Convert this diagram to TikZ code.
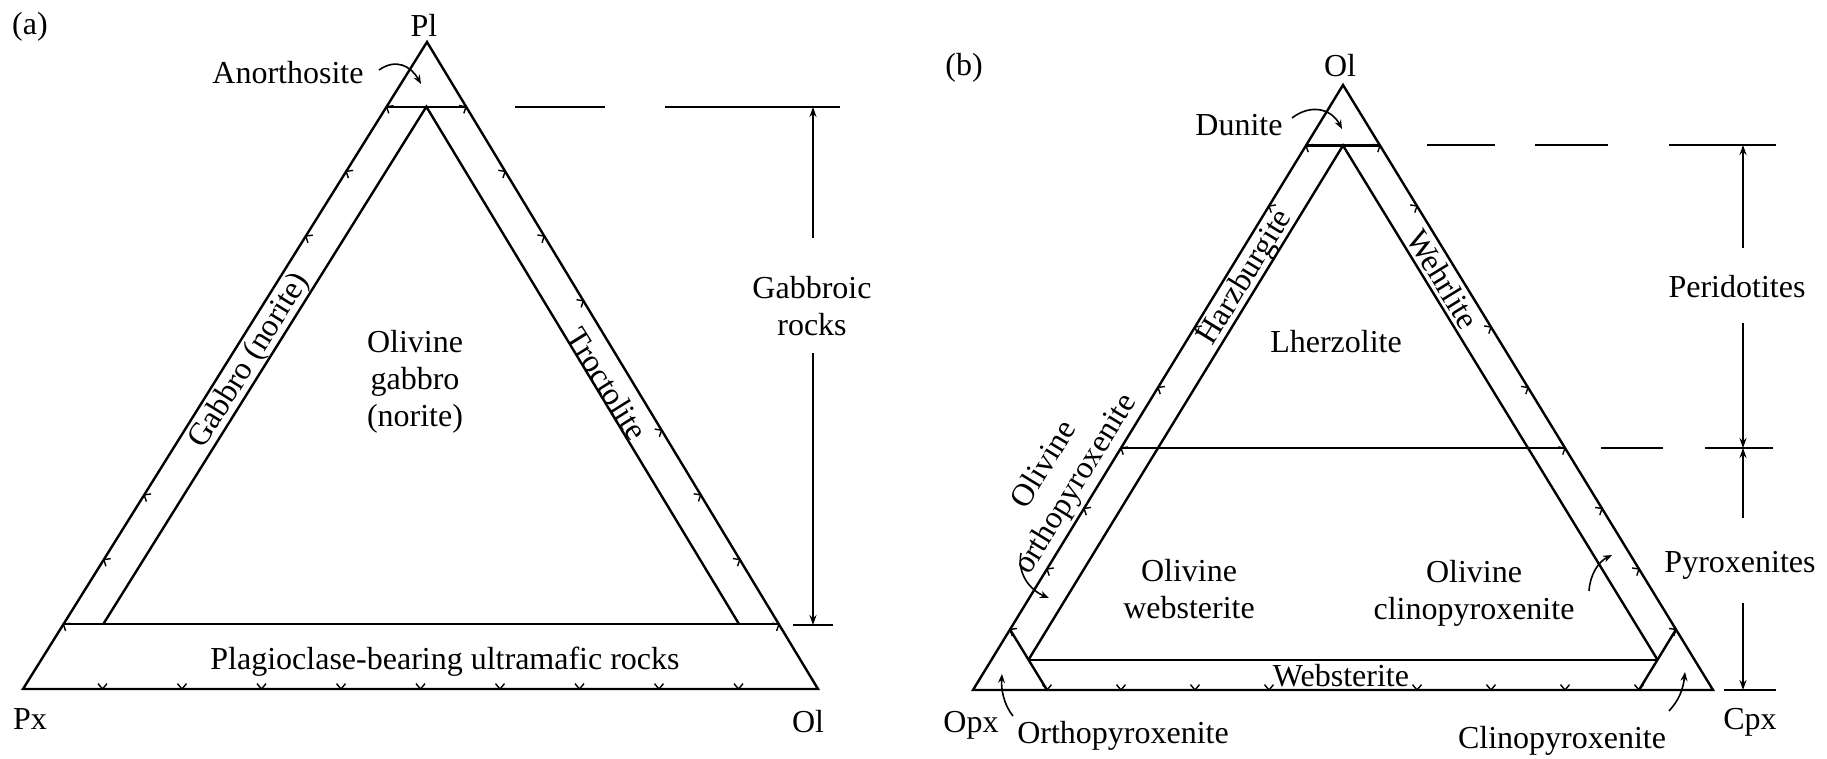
\documentclass[tikz,border=0pt]{standalone}
\usepackage{fontspec}
\setmainfont{Liberation Serif}
\usetikzlibrary{calc,arrows.meta}
\begin{document}
\begin{tikzpicture}[x=0.5pt,y=-0.5pt,
  edge/.style={line width=1.2pt},
  tk/.style={line width=0.7pt},
  dim/.style={line width=0.9pt},
  dsh/.style={line width=1.1pt},
  arr/.style={line width=0.9pt,-{Stealth[length=5pt,width=3.5pt]}},
  carr/.style={line width=0.8pt,-{Stealth[length=4.5pt,width=3.5pt]}},
  lbl/.style={inner sep=0pt,font=\fontsize{16}{18.5}\selectfont,align=center}]
\useasboundingbox (0,0) rectangle (1827,759);
\fill[white] (0,0) rectangle (1827,759);

% ================= (a) =================
\coordinate (aPl) at (427,42);
\coordinate (aPx) at (23,689);
\coordinate (aOl) at (818,689);
\draw[edge] (aPl) -- (aPx) -- (aOl) -- cycle;
\draw[edge] ($(aPx)!0.9!(aPl)$) coordinate (aAnL) -- ($(aOl)!0.9!(aPl)$) coordinate (aAnR);
\draw[edge] ($(aPx)!0.1!(aPl)$) coordinate (aPbL) -- ($(aOl)!0.1!(aPl)$) coordinate (aPbR);
\coordinate (aIT) at (barycentric cs:aPl=0.9,aPx=0.05,aOl=0.05);
\coordinate (aIL) at (barycentric cs:aPl=0.1,aPx=0.85,aOl=0.05);
\coordinate (aIR) at (barycentric cs:aPl=0.1,aPx=0.05,aOl=0.85);
\draw[edge] (aIL) -- (aIT) -- (aIR);

% ticks (a)
\foreach \t in {0.1,0.2,0.3,0.7,0.8,0.9}{
  \coordinate (q) at ($(aPx)!\t!(aPl)$);
  \draw[tk] ([shift={(72:7)}]q) -- (q) -- ([shift={(-8:7)}]q);}
\foreach \t in {0.1,0.2,0.3,0.4,0.6,0.7,0.8,0.9}{
  \coordinate (q) at ($(aOl)!\t!(aPl)$);
  \draw[tk] ([shift={(189:7)}]q) -- (q) -- ([shift={(109:7)}]q);}
\foreach \t in {0.1,0.2,0.3,0.4,0.5,0.6,0.7,0.8,0.9}{
  \coordinate (q) at ($(aPx)!\t!(aOl)$);
  \draw[tk] ([shift={(-130:7)}]q) -- (q) -- ([shift={(-50:7)}]q);}

% labels (a)
\node[lbl] (alab) at (30,27) {(a)};
\node[lbl] (lPl) at (424,25) {Pl};
\node[lbl] (lPx) at (30,719) {Px};
\node[lbl] (lOla) at (808,722) {Ol};
\node[lbl] (anor) at (288,73) {Anorthosite};
\node[lbl] (gabr) at (812,306) {Gabbroic\\rocks};
\node[lbl] (olgab) at (415,382) {Olivine\\gabbro\\(norite)};
\node[lbl,rotate=58] (gabn) at (250,361) {Gabbro (norite)};
\node[lbl,rotate=-58] (troc) at (607,384) {Troctolite};
\node[lbl] (plag) at (445,662) {Plagioclase-bearing ultramafic rocks};

\coordinate (anS) at (379,70);
\coordinate (anE) at (421,84);
\draw[carr] (anS) .. controls (396,58) and (411,66) .. (anE);

% dimension (a)
\coordinate (ag1) at (813,107);
\coordinate (ag2) at (813,238);
\coordinate (ag3) at (813,353);
\coordinate (ag4) at (813,625);
\draw[arr] (ag2) -- (ag1);
\draw[arr] (ag3) -- (ag4);
\draw[dsh] (515,107) -- (605,107);
\draw[dsh] (665,107) -- (840,107);
\draw[dsh] (793,625) -- (833,625);

% ================= (b) =================
\coordinate (bOl) at (1343,85);
\coordinate (bOpx) at (973,690);
\coordinate (bCpx) at (1713,690);
\draw[edge] (bOl) -- (bOpx) -- (bCpx) -- cycle;
\draw[edge] ($(bOpx)!0.9!(bOl)$) coordinate (bDuL) -- ($(bCpx)!0.9!(bOl)$) coordinate (bDuR);
\draw[edge] ($(bOpx)!0.4!(bOl)$) coordinate (bPeL) -- ($(bCpx)!0.4!(bOl)$) coordinate (bPeR);
\coordinate (bIT) at (barycentric cs:bOl=0.9,bOpx=0.05,bCpx=0.05);
\coordinate (bIL) at (barycentric cs:bOl=0.05,bOpx=0.9,bCpx=0.05);
\coordinate (bIR) at (barycentric cs:bOl=0.05,bOpx=0.05,bCpx=0.9);
\draw[edge] (bIL) -- (bIT) -- (bIR);
\draw[edge] (bIL) -- (bIR);
\draw[edge] ($(bOpx)!0.1!(bOl)$) coordinate (bOxT) -- ($(bOpx)!0.1!(bCpx)$) coordinate (bOxB);
\draw[edge] ($(bCpx)!0.1!(bOl)$) coordinate (bCxT) -- ($(bCpx)!0.1!(bOpx)$) coordinate (bCxB);

% ticks (b)
\foreach \t in {0.1,0.2,0.3,0.4,0.5,0.6,0.8,0.9}{
  \coordinate (q) at ($(bOpx)!\t!(bOl)$);
  \draw[tk] ([shift={(71.4:7)}]q) -- (q) -- ([shift={(-8.6:7)}]q);}
\foreach \t in {0.1,0.2,0.3,0.4,0.5,0.6,0.8,0.9}{
  \coordinate (q) at ($(bCpx)!\t!(bOl)$);
  \draw[tk] ([shift={(188.6:7)}]q) -- (q) -- ([shift={(108.6:7)}]q);}
\foreach \t in {0.1,0.2,0.3,0.4,0.6,0.7,0.8,0.9}{
  \coordinate (q) at ($(bOpx)!\t!(bCpx)$);
  \draw[tk] ([shift={(-130:7)}]q) -- (q) -- ([shift={(-50:7)}]q);}

% labels (b)
\node[lbl] (blab) at (964,68) {(b)};
\node[lbl] (lOlb) at (1340,66) {Ol};
\node[lbl] (dun) at (1239,125) {Dunite};
\node[lbl,rotate=58.5] (harz) at (1246,278) {Harzburgite};
\node[lbl,rotate=-58.5] (wehr) at (1443,279) {Wehrlite};
\node[lbl] (lherz) at (1336,342) {Lherzolite};
\node[lbl] (perid) at (1737,287) {Peridotites};
\node[lbl,rotate=58.5] (olopx) at (1061,475) {Olivine\\orthopyroxenite};
\node[lbl] (olweb) at (1189,589) {Olivine\\websterite};
\node[lbl] (olcpx) at (1474,593) {Olivine\\clinopyroxenite};
\node[lbl] (pyrox) at (1740,565) {Pyroxenites};
\node[lbl] (webst) at (1341,676) {Websterite};
\node[lbl] (lOpx) at (971,725) {Opx};
\node[lbl] (orthop) at (1123,736) {Orthopyroxenite};
\node[lbl] (clinop) at (1562,741) {Clinopyroxenite};
\node[lbl] (lCpx) at (1750,722) {Cpx};

% curved arrows (b)
\coordinate (duS) at (1292,118);
\coordinate (duE) at (1342,129);
\draw[carr] (duS) .. controls (1310,104) and (1331,108) .. (duE);
\coordinate (ooS) at (1021,553);
\coordinate (ooE) at (1049,598);
\draw[carr] (ooS) .. controls (1017,574) and (1030,590) .. (ooE);
\coordinate (ocS) at (1589,591);
\coordinate (ocE) at (1612,555);
\draw[carr] (ocS) .. controls (1590,575) and (1598,562) .. (ocE);
\coordinate (opS) at (1013,716);
\coordinate (opE) at (1002,674);
\draw[carr] (opS) .. controls (1004,705) and (1001,690) .. (opE);
\coordinate (cpS) at (1669,711);
\coordinate (cpE) at (1685,672);
\draw[carr] (cpS) .. controls (1679,700) and (1683,690) .. (cpE);

% dimension (b)
\coordinate (bd1) at (1743,145);
\coordinate (bd2) at (1743,248);
\coordinate (bd3) at (1743,323);
\coordinate (bd4) at (1743,448);
\coordinate (bd5) at (1743,518);
\coordinate (bd6) at (1743,603);
\coordinate (bd7) at (1743,690);
\draw[arr] (bd2) -- (bd1);
\draw[arr] (bd3) -- (bd4);
\draw[arr] (bd5) -- (bd4);
\draw[arr] (bd6) -- (bd7);
\draw[dsh] (1427,145) -- (1495,145);
\draw[dsh] (1535,145) -- (1608,145);
\draw[dsh] (1669,145) -- (1776,145);
\draw[dsh] (1601,448) -- (1663,448);
\draw[dsh] (1705,448) -- (1773,448);
\draw[dsh] (1724,690) -- (1776,690);
\end{tikzpicture}
\end{document}
